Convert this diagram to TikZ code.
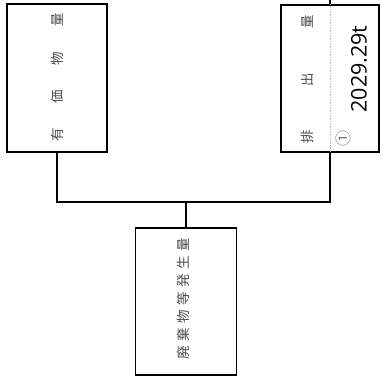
\documentclass[tikz,border=0pt]{standalone}
\usepackage{fontspec}
\newfontfamily\jpfont{Noto Sans CJK JP}
\newfontfamily\numfont{Open Sans}
\begin{document}
\begin{tikzpicture}[x=1pt,y=-1pt,
  box/.style={draw=black,line width=1.4pt,inner sep=0pt},
  conn/.style={draw=black,line width=1.2pt},
  jtext/.style={rotate=90,font=\jpfont\fontsize{13.5}{13.5}\selectfont,text=black!70,inner sep=0pt},
  numtext/.style={rotate=90,font=\numfont\fontsize{21.5}{21.5}\selectfont,inner sep=0pt}]
\useasboundingbox (0,0) rectangle (381,377);
\node[box,minimum width=100pt,minimum height=148pt] (lb) at (57,78) {};
\node[box,minimum width=98pt,minimum height=147pt] (rb) at (330,78.5) {};
\node[box,minimum width=101pt,minimum height=147pt] (bb) at (186,301.5) {};
\draw[black!25,line width=0.6pt,densely dotted] (rb.north) -- (rb.south);
\node[jtext] (lt) at (57,77.5) {有\hspace{24.8pt}価\hspace{24.8pt}物\hspace{24.8pt}量};
\node[jtext] (rt) at (307,79.5) {排\hspace{44pt}出\hspace{44pt}量};
\node[jtext,text=black!55,font=\jpfont\fontsize{16}{16}\selectfont] (c1) at (343,139) {①};
\node[numtext] (num) at (359,69) {2029.29t};
\node[jtext] (bt) at (183,299) {廃\hspace{4.5pt}棄\hspace{4.5pt}物\hspace{4.5pt}等\hspace{4.5pt}発\hspace{4.5pt}生\hspace{4.5pt}量};
\coordinate (j) at (186,202);
\coordinate (top) at (330,0);
\draw[conn] (lb.south) |- (j) -| (rb.south);
\draw[conn] (j) -- (bb.north);
\draw[conn] (rb.north) -- (top);
\end{tikzpicture}
\end{document}
